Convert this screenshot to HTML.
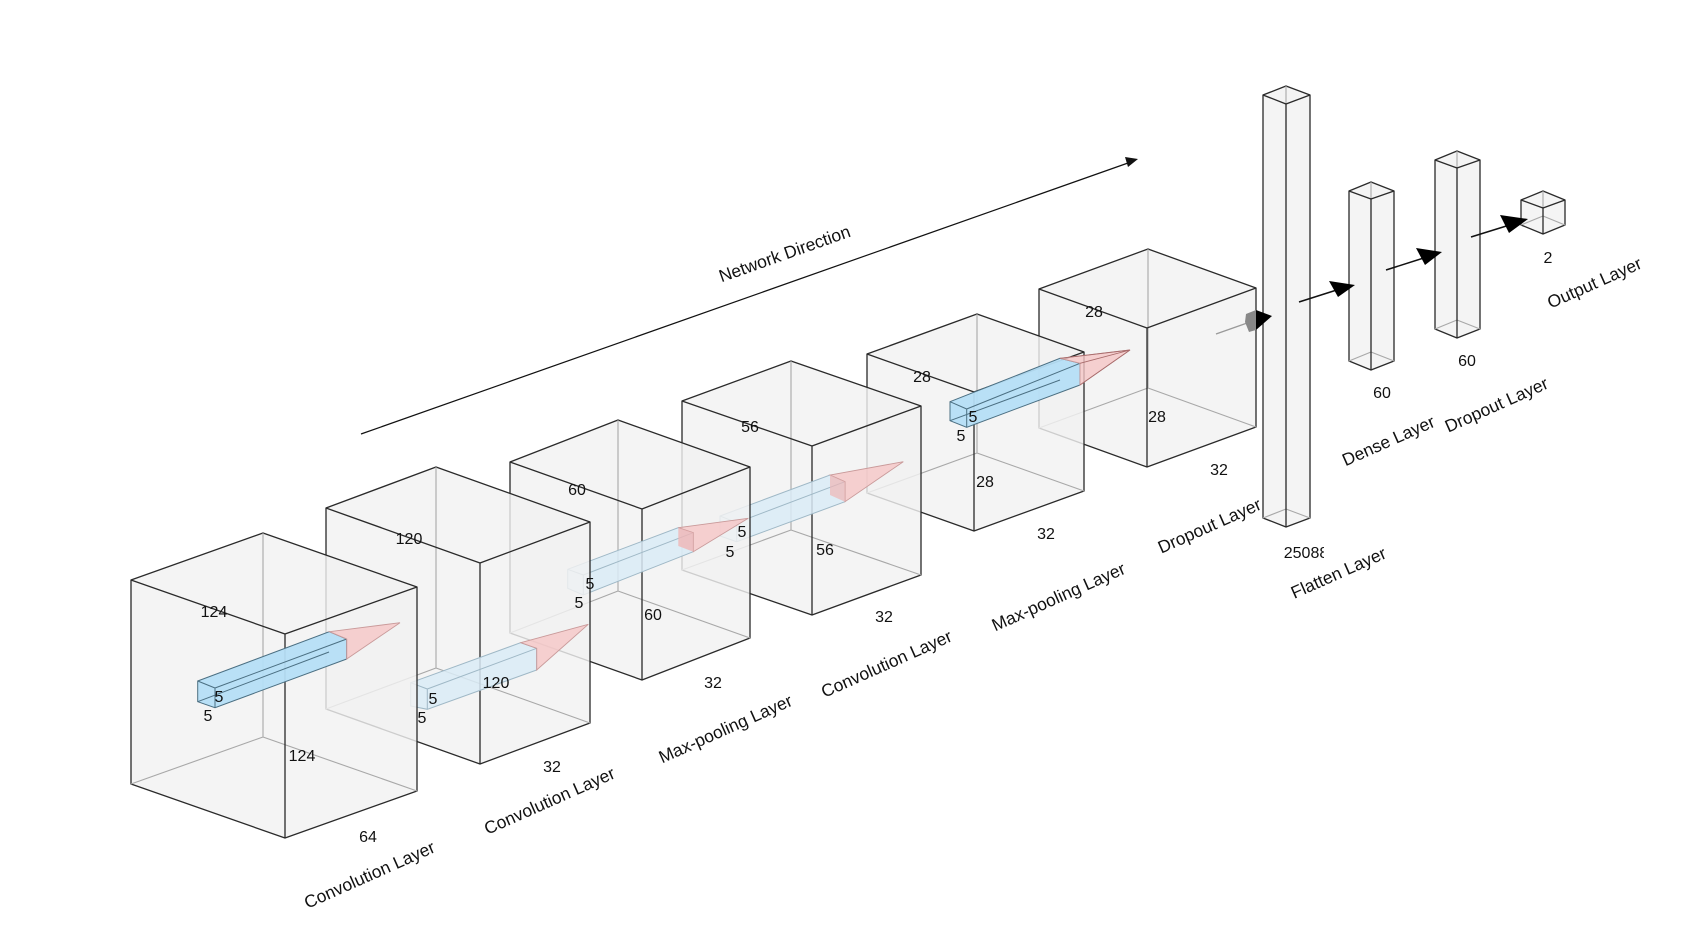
<!DOCTYPE html>
<html><head><meta charset="utf-8"><style>
html,body{margin:0;padding:0;background:#fff;}
svg{display:block;}
text{font-family:"Liberation Sans",sans-serif;fill:#111;}
.n{font-size:16px;text-anchor:middle;dominant-baseline:middle;}
.l{font-size:17.5px;text-anchor:middle;dominant-baseline:middle;}
.bx{fill:#f2f2f2;fill-opacity:.82;stroke:#2a2a2a;stroke-width:1.3;stroke-linejoin:round;}
.e{stroke:#2a2a2a;stroke-width:1.3;fill:none;}
.h{stroke:#a8a8a8;stroke-width:1.1;fill:none;}
.kv{fill:#b5def6;stroke:#4b6f82;stroke-width:1;fill-opacity:.95;}
.kp{fill:#d9ebf6;stroke:#9fb8c6;stroke-width:1;fill-opacity:.85;}
.pk{fill:#f5c6c6;stroke:#c99a9a;stroke-width:.9;fill-opacity:.8;}
</style></head><body>
<svg width="1698" height="932" viewBox="0 0 1698 932" xmlns="http://www.w3.org/2000/svg">
<rect width="1698" height="932" fill="#fff"/>

<!-- Network direction -->
<line x1="361" y1="434" x2="1128" y2="163" stroke="#111" stroke-width="1.2"/>
<polygon points="1138,159 1125,157 1128,167" fill="#111"/>
<text class="l" transform="translate(785,255) rotate(-19.5)">Network Direction</text>

<g transform="translate(-7,0)">
<!-- Output cube -->
<polygon class="bx" points="1528,200 1550,191 1572,200 1572,225 1550,234 1528,225"/>
<path class="h" d="M1550,191V216M1550,216L1528,225M1550,216L1572,225"/>
<path class="e" d="M1550,208L1528,200M1550,208L1572,200M1550,208V234"/>
<!-- Dropout column -->
<polygon class="bx" points="1442,160 1464,151 1487,160 1487,329 1464,338 1442,329"/>
<path class="h" d="M1464,151V320M1464,320L1442,329M1464,320L1487,329"/>
<path class="e" d="M1464,168L1442,160M1464,168L1487,160M1464,168V338"/>
<!-- Dense column -->
<polygon class="bx" points="1356,191 1378,182 1401,191 1401,361 1378,370 1356,361"/>
<path class="h" d="M1378,182V352M1378,352L1356,361M1378,352L1401,361"/>
<path class="e" d="M1378,199L1356,191M1378,199L1401,191M1378,199V370"/>
<!-- Flatten column -->
<polygon class="bx" points="1270,95 1293,86 1317,95 1317,518 1293,527 1270,518"/>
<path class="h" d="M1293,86V509M1293,509L1270,518M1293,509L1317,518"/>
<path class="e" d="M1293,104L1270,95M1293,104L1317,95M1293,104V527"/>

<!-- arrows between columns -->
<line x1="1306" y1="302" x2="1350" y2="288" stroke="#111" stroke-width="1.5"/>
<polygon points="1362,285 1336,281 1345,297" fill="#000"/>
<line x1="1393" y1="270" x2="1437" y2="256" stroke="#111" stroke-width="1.5"/>
<polygon points="1449,252 1423,248 1432,265" fill="#000"/>
<line x1="1478" y1="237" x2="1523" y2="223" stroke="#111" stroke-width="1.5"/>
<polygon points="1535,219 1507,215 1516,233" fill="#000"/>

<svg x="1280" y="539" width="51" height="30" overflow="hidden"><text x="33" y="15" class="n">25088</text></svg>
<text class="n" x="1389" y="394">60</text>
<text class="n" x="1474" y="362">60</text>
<text class="n" x="1555" y="259">2</text>
</g>

<!-- Box6 -->
<polygon class="bx" points="1039,289 1148,249 1256,288 1256,427 1147,467 1039,428"/>
<path class="h" d="M1148,249V388M1148,388L1039,428M1148,388L1256,427"/>
<path class="e" d="M1147,328L1039,289M1147,328L1256,288M1147,328V467"/>
<g transform="translate(-6,0)">
<line x1="1222" y1="334" x2="1256" y2="322" stroke="#999" stroke-width="1.3"/>
<polygon points="1252,314 1262,310 1262,330 1255,332 1251,322" fill="#888"/>
<polygon points="1278,316 1262,310 1262,330" fill="#000"/>
</g>

<!-- Box5 -->
<polygon class="bx" points="867,354 977,314 1084,352 1084,491 974,531 867,493"/>
<path class="h" d="M977,314V453M977,453L867,493M977,453L1084,491"/>
<path class="e" d="M974,392L867,354M974,392L1084,352M974,392V531"/>
<!-- kernel5 -->
<polygon class="kv" points="950,401.7 1060,358.3 1080,363.3 1080,385 966.7,427.3 950,420.7"/>
<path d="M966.7,409L1080,363.3M966.7,409V427.3M950,401.7L966.7,409M950,420.7L1060,380" stroke="#4b6f82" stroke-width="1" fill="none"/>
<polygon class="pk" points="1060,358.3 1080,363.3 1080,385 1130,350"/>
<path d="M1060,358.3L1130,350L1080,385M1080,363.3L1130,350" stroke="#a86b6b" stroke-width=".9" fill="none"/>

<!-- Box4 -->
<polygon class="bx" points="682,401 791,361 921,406 921,575 812,615 682,570"/>
<path class="h" d="M791,361V530M791,530L682,570M791,530L921,575"/>
<path class="e" d="M812,446L682,401M812,446L921,406M812,446V615"/>
<!-- kernel4 -->
<polygon class="kp" points="720,516 830,475 845,481.7 845,501.7 736.7,541.7 720,536"/>
<path d="M736.7,522.7L845,481.7M736.7,522.7V541.7M720,516L736.7,522.7" stroke="#9fb8c6" stroke-width="1" fill="none"/>
<polygon class="pk" points="830,475 845,481.7 845,501.7 903.3,461.7"/>
<polygon points="830,475 845,481.7 845,501.7 830,495" fill="#f0b5b5" fill-opacity=".7"/>

<!-- Box3 -->
<polygon class="bx" points="510,462 618,420 750,467 750,638 642,680 510,633"/>
<path class="h" d="M618,420V591M618,591L510,633M618,591L750,638"/>
<path class="e" d="M642,509L510,462M642,509L750,467M642,509V680"/>
<!-- kernel3 -->
<polygon class="kp" points="567.7,569.3 678.3,527.7 693.3,532.7 693.3,551.7 583.3,595 567.7,588.3"/>
<path d="M583.3,575L693.3,532.7M583.3,575V595M567.7,569.3L583.3,575" stroke="#9fb8c6" stroke-width="1" fill="none"/>
<polygon class="pk" points="678.3,527.7 693.3,532.7 693.3,551.7 748.3,518.3"/>
<polygon points="678.3,527.7 693.3,532.7 693.3,551.7 678.3,546" fill="#f0b5b5" fill-opacity=".8"/>

<!-- Box2 -->
<polygon class="bx" points="326,508 436,467 590,522 590,723 480,764 326,709"/>
<path class="h" d="M436,467V668M436,668L326,709M436,668L590,723"/>
<path class="e" d="M480,563L326,508M480,563L590,522M480,563V764"/>
<!-- kernel2 -->
<polygon class="kp" points="410.7,682.7 520.7,642.7 536.7,648.3 536.7,670 427.3,709.3 410.7,706"/>
<path d="M427.3,689L536.7,648.3M427.3,689V709.3M410.7,682.7L427.3,689" stroke="#9fb8c6" stroke-width="1" fill="none"/>
<polygon class="pk" points="520.7,642.7 536.7,648.3 536.7,670 588.3,624.3"/>

<!-- Box1 -->
<polygon class="bx" points="131,580 263,533 417,587 417,791 285,838 131,784"/>
<path class="h" d="M263,533V737M263,737L131,784M263,737L417,791"/>
<path class="e" d="M285,634L131,580M285,634L417,587M285,634V838"/>
<!-- kernel1 -->
<polygon class="kv" points="197.7,681 329.3,631.7 346.7,639 346.7,659 215,707.7 197.7,701.7"/>
<path d="M215,688L346.7,639M215,688V707.7M197.7,681L215,688M197.7,701.7L329,652" stroke="#4b6f82" stroke-width="1" fill="none"/>
<polygon class="pk" points="329.3,631.7 346.7,639 346.7,659 400,622.7" fill-opacity=".5"/>

<!-- dimension labels -->
<text class="n" x="214" y="613">124</text>
<text class="n" x="302" y="757">124</text>
<text class="n" x="368" y="838">64</text>
<text class="n" x="219" y="698">5</text>
<text class="n" x="208" y="717">5</text>

<text class="n" x="409" y="540">120</text>
<text class="n" x="496" y="684">120</text>
<text class="n" x="552" y="768">32</text>
<text class="n" x="433" y="700">5</text>
<text class="n" x="422" y="719">5</text>

<text class="n" x="577" y="491">60</text>
<text class="n" x="653" y="616">60</text>
<text class="n" x="713" y="684">32</text>
<text class="n" x="590" y="585">5</text>
<text class="n" x="579" y="604">5</text>

<text class="n" x="750" y="428">56</text>
<text class="n" x="825" y="551">56</text>
<text class="n" x="884" y="618">32</text>
<text class="n" x="742" y="533">5</text>
<text class="n" x="730" y="553">5</text>

<text class="n" x="922" y="378">28</text>
<text class="n" x="985" y="483">28</text>
<text class="n" x="1046" y="535">32</text>
<text class="n" x="973" y="418">5</text>
<text class="n" x="961" y="437">5</text>

<text class="n" x="1094" y="313">28</text>
<text class="n" x="1157" y="418">28</text>
<text class="n" x="1219" y="471">32</text>

<!-- layer labels -->
<text class="l" transform="translate(370,876) rotate(-24)">Convolution Layer</text>
<text class="l" transform="translate(550,802) rotate(-24)">Convolution Layer</text>
<text class="l" transform="translate(726,730) rotate(-24)">Max-pooling Layer</text>
<text class="l" transform="translate(887,665) rotate(-24)">Convolution Layer</text>
<text class="l" transform="translate(1059,598) rotate(-24)">Max-pooling Layer</text>
<text class="l" transform="translate(1210,527) rotate(-24)">Dropout Layer</text>
<text class="l" transform="translate(1339,574) rotate(-24)">Flatten Layer</text>
<text class="l" transform="translate(1389,442) rotate(-24)">Dense Layer</text>
<text class="l" transform="translate(1497,406) rotate(-24)">Dropout Layer</text>
<text class="l" transform="translate(1595,284) rotate(-24)">Output Layer</text>
</svg>
</body></html>
